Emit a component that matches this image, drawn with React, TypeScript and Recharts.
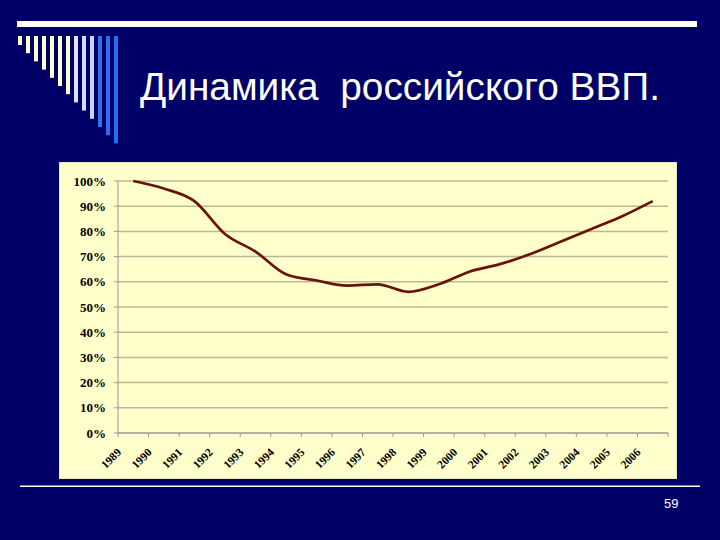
import { CartesianGrid, Line, LineChart, XAxis, YAxis } from "recharts";

const years = [
  "1989", "1990", "1991", "1992", "1993", "1994", "1995", "1996", "1997",
  "1998", "1999", "2000", "2001", "2002", "2003", "2004", "2005", "2006",
];
const gdpShare = [100, 97, 92, 79, 72, 63, 60.5, 58.5, 59, 56, 59, 64, 67, 71, 76, 81, 86, 92];
const percentTicks = [0, 10, 20, 30, 40, 50, 60, 70, 80, 90, 100];

const data = years.map((year, i) => ({ year, gdp: gdpShare[i] }));

const barColors = [
  "#ffffcc", "#ffffcc", "#ffffcc", "#ffffcc", "#ffffcc", "#ffffcc", "#ffffcc",
  "#dde4ff", "#d2dcff", "#c8d4f8", "#2f72e6", "#2a6ee8", "#1f6ff5",
];

function YearTick(props: any) {
  const { x, y, payload, index, visibleTicksCount } = props;
  const half = payload?.offset ?? 15.3;
  const left = x - half;
  const isLast = index === visibleTicksCount - 1;
  return (
    <g>
      <line x1={left} y1={y} x2={left} y2={y + 4} stroke="#999" />
      {isLast && <line x1={x + half} y1={y} x2={x + half} y2={y + 4} stroke="#999" />}
      <text
        x={left + 4}
        y={y + 20}
        transform={`rotate(-45, ${left + 4}, ${y + 20})`}
        textAnchor="end"
        fontFamily="'Liberation Serif', 'Times New Roman', serif"
        fontWeight="bold"
        fontSize={11.5}
        fill="#000"
      >
        {payload.value}
      </text>
    </g>
  );
}

export default function App() {
  return (
    <div
      style={{
        position: "absolute",
        left: 0,
        top: 0,
        width: 720,
        height: 540,
        background: "#000066",
        overflow: "hidden",
      }}
    >
      <svg width={720} height={540} style={{ position: "absolute", left: 0, top: 0 }}>
        <rect x={17} y={21} width={680} height={6} fill="#ffffff" />
        {barColors.map((c, i) => (
          <rect key={i} x={18 + i * 8} y={36} width={4} height={9 + i * 8.2} fill={c} />
        ))}
        <text
          x={140}
          y={100}
          fontFamily="'Liberation Sans', Arial, sans-serif"
          fontSize={38}
          fill="#ffffff"
          textLength={520}
          lengthAdjust="spacingAndGlyphs"
          style={{ whiteSpace: "pre" }}
        >
          {"Динамика  российского ВВП."}
        </text>
        <rect x={20} y={485.5} width={680} height={1.5} fill="#ffffff" />
        <text
          x={664}
          y={507.5}
          fontFamily="'Liberation Sans', Arial, sans-serif"
          fontSize={13}
          fill="#ffffff"
        >
          59
        </text>
      </svg>

      <div
        style={{
          position: "absolute",
          left: 59,
          top: 162,
          width: 618,
          height: 317,
          background: "#ffffcc",
          boxShadow: "inset 0 0 0 1px #e6e6c8",
        }}
      >
        <LineChart width={618} height={317} data={data} margin={{ top: 19, right: 9, left: 0, bottom: 0 }}>
          <CartesianGrid vertical={false} stroke="#bcb897" strokeWidth={1.5} />
          <XAxis
            dataKey="year"
            scale="band"
            interval={0}
            height={46}
            tickSize={0}
            tickMargin={0}
            tickLine={false}
            axisLine={{ stroke: "#999" }}
            tick={<YearTick />}
          />
          <YAxis
            domain={[0, 100]}
            ticks={percentTicks}
            interval={0}
            width={59}
            tickSize={4}
            tickMargin={8}
            axisLine={{ stroke: "#999" }}
            tickLine={{ stroke: "#999" }}
            tickFormatter={(v: number) => `${v}%`}
            tick={{
              fill: "#000",
              fontSize: 13,
              fontWeight: "bold",
              fontFamily: "'Liberation Serif', 'Times New Roman', serif",
            }}
          />
          <Line
            type="monotone"
            dataKey="gdp"
            stroke="#6b1209"
            strokeWidth={2.7}
            dot={false}
            isAnimationActive={false}
          />
        </LineChart>
      </div>
    </div>
  );
}
